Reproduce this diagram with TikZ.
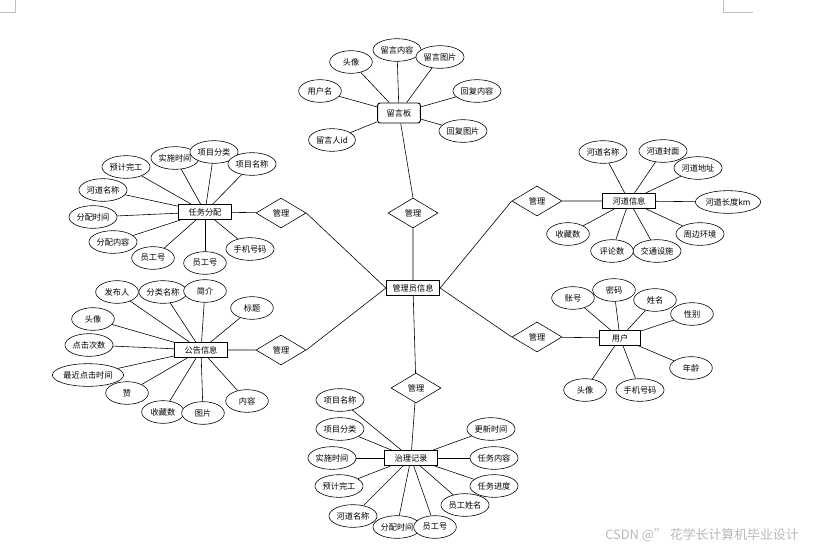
\documentclass[tikz,border=0pt]{standalone}
\usepackage{fontspec}
\setmainfont{Noto Sans CJK SC}
\usepackage{tikz}
\usetikzlibrary{shapes.geometric, backgrounds}

\tikzset{
  entbox/.style={draw, fill=white, line width=0.8pt, minimum width=1.6cm, minimum height=0.45cm, inner sep=1pt, font=\fontsize{7}{8}\selectfont},
  attr/.style={draw, fill=white, ellipse, line width=0.5pt, minimum width=1.28cm, minimum height=0.68cm, inner sep=0.5pt, font=\fontsize{7}{8}\selectfont},
  rel/.style={draw, fill=white, diamond, line width=0.5pt, minimum width=1.5cm, minimum height=0.9cm, inner sep=0pt, font=\fontsize{7}{8}\selectfont},
  link/.style={line width=0.5pt}
}

\begin{document}
\begin{tikzpicture}[x=0.03cm, y=-0.03cm]
  \useasboundingbox (0,0) rectangle (830,551);

  % page corner marks
  \draw[black!25, line width=0.6pt] (15,0) -- (15,12) -- (0,12);
  \draw[black!25, line width=0.6pt] (723,0) -- (723,12) -- (753,12);

  % entities
  \node[entbox] (gly) at (413,288) {管理员信息};
  \node[entbox, rounded corners=2pt, minimum width=1.28cm, minimum height=0.6cm] (ly) at (399,113) {留言板};
  \node[entbox] (rw) at (205,212) {任务分配};
  \node[entbox] (hd) at (629,201) {河道信息};
  \node[entbox] (gg) at (201,350) {公告信息};
  \node[entbox, minimum width=1.23cm] (yh) at (620,338) {用户};
  \node[entbox] (zl) at (411,458) {治理记录};

  % relations
  \node[rel] (gl1) at (413,213) {管理};
  \node[rel] (gl2) at (281,213) {管理};
  \node[rel] (gl3) at (281,350) {管理};
  \node[rel] (gl4) at (537,201) {管理};
  \node[rel] (gl5) at (537,337) {管理};
  \node[rel] (gl6) at (416,388) {管理};

  \draw[link] (ly) -- (gl1.north) (gl1) -- (gly);
  \draw[link] (rw) -- (gl2) (gl2.east) -- (gly.west);
  \draw[link] (gg) -- (gl3) (gl3.east) -- (gly.west);
  \draw[link] (gly.east) -- (gl4.west) (gl4) -- (hd);
  \draw[link] (gly.east) -- (gl5.west) (gl5) -- (yh);
  \draw[link] (gly) -- (gl6) (gl6) -- (zl);

  % attributes of 留言板
  \foreach \nm/\pos/\txt in {lya/{351,62}/头像, lyb/{397,50}/留言内容, lyc/{440,57}/留言图片,
      lyd/{320,91}/用户名, lye/{477,91}/回复内容, lyf/{463,131}/回复图片, lyg/{332,140}/留言人id} {
    \node[attr] (\nm) at (\pos) {\txt};
    \begin{scope}[on background layer]
      \draw[link] (\nm) -- (ly);
    \end{scope}
  }

  % attributes of 任务分配
  \foreach \nm/\pos/\txt in {rwa/{126,167}/预计完工, rwb/{175,158}/实施时间, rwc/{214,152}/项目分类,
      rwd/{252,164}/项目名称, rwe/{103,190}/河道名称, rwf/{93,217}/分配时间, rwg/{113,242}/分配内容,
      rwh/{153,258}/员工号, rwi/{205,263}/员工号, rwj/{250,249}/手机号码} {
    \node[attr] (\nm) at (\pos) {\txt};
    \begin{scope}[on background layer]
      \draw[link] (\nm) -- (rw);
    \end{scope}
  }

  % attributes of 河道信息
  \foreach \nm/\pos/\txt in {hda/{603,152}/河道名称, hdb/{663,151}/河道封面, hdc/{698,168}/河道地址,
      hdd/{728,202}/河道长度km, hde/{700,234}/周边环境, hdf/{657,251}/交通设施,
      hdg/{612,251}/评论数, hdh/{568,234}/收藏数} {
    \node[attr] (\nm) at (\pos) {\txt};
    \begin{scope}[on background layer]
      \draw[link] (\nm) -- (hd);
    \end{scope}
  }

  % attributes of 公告信息
  \foreach \nm/\pos/\txt in {gga/{117,292}/发布人, ggb/{163,292}/分类名称, ggc/{205,291}/简介,
      ggd/{252,308}/标题, gge/{93,319}/头像, ggf/{89,345}/点击次数, ggg/{88,375}/最近点击时间,
      ggh/{127,393}/赞, ggi/{163,412}/收藏数, ggj/{203,413}/图片, ggk/{247,401}/内容} {
    \node[attr] (\nm) at (\pos) {\txt};
    \begin{scope}[on background layer]
      \draw[link] (\nm) -- (gg);
    \end{scope}
  }

  % attributes of 用户
  \foreach \nm/\pos/\txt in {yha/{573,298}/账号, yhb/{614,290}/密码, yhc/{655,300}/姓名,
      yhd/{692,314}/性别, yhe/{691,368}/年龄, yhf/{640,390}/手机号码, yhg/{585,390}/头像} {
    \node[attr] (\nm) at (\pos) {\txt};
    \begin{scope}[on background layer]
      \draw[link] (\nm) -- (yh);
    \end{scope}
  }

  % attributes of 治理记录
  \foreach \nm/\pos/\txt in {zla/{340,400}/项目名称, zlb/{340,429}/项目分类, zlc/{332,458}/实施时间,
      zld/{339,486}/预计完工, zle/{353,516}/河道名称, zlf/{397,527}/分配时间, zlg/{435,527}/员工号,
      zlh/{465,505}/员工姓名, zli/{494,486}/任务进度, zlj/{494,458}/任务内容, zlk/{491,429}/更新时间} {
    \node[attr] (\nm) at (\pos) {\txt};
    \begin{scope}[on background layer]
      \draw[link] (\nm) -- (zl);
    \end{scope}
  }

  % watermark
  \node[text=black!28, font=\fontsize{11}{13}\selectfont] (wm) at (702,535) {CSDN @'' 花学长计算机毕业设计};
\end{tikzpicture}
\end{document}
